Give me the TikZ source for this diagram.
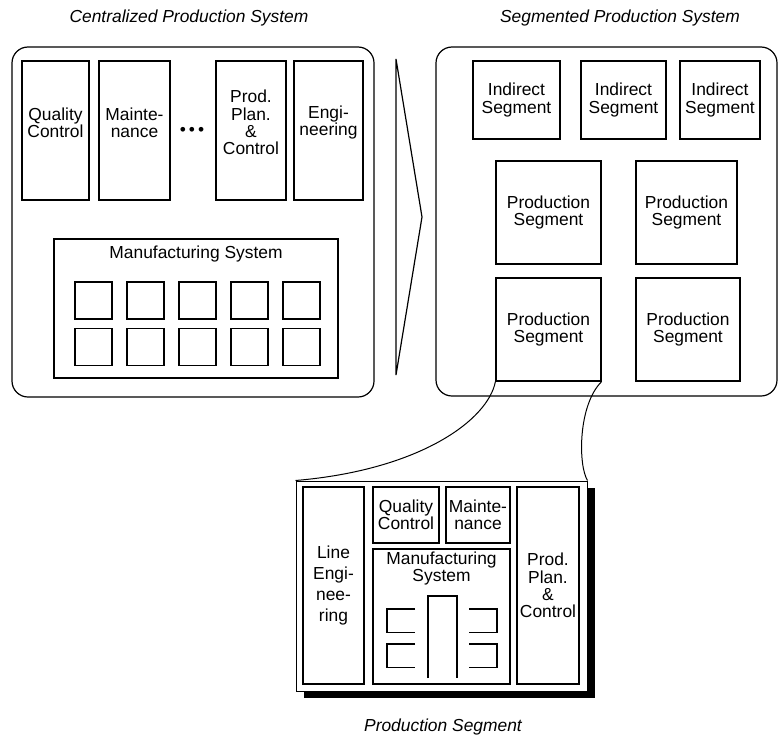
\documentclass[tikz,border=0pt]{standalone}
\usepackage{fontspec}
\setmainfont{Liberation Sans}
\usetikzlibrary{shadows}

\begin{document}
\begin{tikzpicture}[x=1pt,y=-1pt,
    every node/.style={font=\fontsize{17.4pt}{17.2pt}\selectfont},
    caption/.style={font=\fontsize{17.4pt}{17.2pt}\selectfont\itshape},
    plant/.style={draw,line width=1.2pt,rounded corners=16pt,inner sep=0pt},
    dept/.style={draw,line width=1.2pt,inner sep=0pt,align=center},
    lbl/.style={align=center,yshift=8pt},
    cell/.style={draw,line width=1.2pt,minimum size=37pt,inner sep=0pt},
    frame/.style={draw,fill=white,line width=1pt,inner sep=0pt,
        drop shadow={shadow xshift=8pt,shadow yshift=-7pt,fill=black,opacity=1}}]
    \useasboundingbox (0,0) rectangle (779,736);

    \path
    (189,18) node[caption] (cps) {Centralized Production System}
    (620,18) node[caption] (sps) {Segmented Production System}
    (443,727) node[caption] (psl) {Production Segment};

    % centralized
    \path
    (193,222) node[plant,minimum width=362pt,minimum height=350pt] (central) {}
    (55.5,130.5) node[dept,minimum width=67pt,minimum height=139pt,label={[lbl]center:Quality\\Control}] (qc) {}
    (134.5,130.5) node[dept,minimum width=71pt,minimum height=139pt,label={[lbl]center:Mainte-\\nance}] (maint) {}
    (192,131) node (dots) {\textbullet\hspace{3pt}\textbullet\hspace{3pt}\textbullet}
    (251,130.5) node[dept,minimum width=70pt,minimum height=139pt,label={[lbl]center:Prod.\\Plan.\\\&\\Control}] (ppc) {}
    (328.5,130.5) node[dept,minimum width=69pt,minimum height=139pt,label={[lbl]center:Engi-\\neering}] (eng) {}
    (196,308.5) node[dept,minimum width=284pt,minimum height=139pt,label={[anchor=north,yshift=-4pt]north:Manufacturing System}] (mfg) {};

    \foreach \row/\y in {1/300.5,2/347}
        \foreach \col in {1,...,5}
            \path (41.5+52*\col,\y) node[cell] (cell-\row-\col) {};

    \draw[line width=1.2pt] (396,59) -- (422,217) -- (396,375) -- cycle;

    % segmented
    \path
    (606.5,221.5) node[plant,minimum width=341pt,minimum height=349pt] (segmented) {}
    (516.5,100) node[dept,minimum width=87pt,minimum height=78pt] (ind1) {Indirect\\Segment}
    (623.5,100) node[dept,minimum width=85pt,minimum height=78pt] (ind2) {Indirect\\Segment}
    (720,100) node[dept,minimum width=80pt,minimum height=78pt] (ind3) {Indirect\\Segment}
    (548.5,212.5) node[dept,minimum width=105pt,minimum height=103pt] (prod1) {Production\\Segment}
    (686.5,212.5) node[dept,minimum width=101pt,minimum height=103pt] (prod2) {Production\\Segment}
    (548.5,329.5) node[dept,minimum width=105pt,minimum height=103pt] (prod3) {Production\\Segment}
    (688,329.5) node[dept,minimum width=104pt,minimum height=103pt] (prod4) {Production\\Segment};

    % production segment
    \path
    (441.5,586) node[frame,minimum width=291pt,minimum height=210pt] (zoom) {}
    (333.5,585.5) node[dept,minimum width=61pt,minimum height=197pt] (leng) {Line\\[3.5pt]Engi-\\[3.5pt]nee-\\[3.5pt]ring}
    (406,515) node[dept,minimum width=66pt,minimum height=56pt] (zqc) {Quality\\Control}
    (478,515) node[dept,minimum width=64pt,minimum height=56pt] (zmaint) {Mainte-\\nance}
    (441.5,616.5) node[dept,minimum width=137pt,minimum height=135pt,label={[anchor=north,align=center]north:Manufacturing\\System}] (zmfg) {}
    (548,585.5) node[dept,minimum width=62pt,minimum height=197pt] (zppc) {Prod.\\Plan.\\\&\\Control};

    \draw[line width=1.2pt] (428,678) -- (428,596) -- (457,596) -- (457,678);
    \foreach \y in {609,644} {
        \draw[line width=1.2pt] (415,\y) -- ++(-28,0) -- ++(0,23.5) -- ++(28,0);
        \draw[line width=1.2pt] (469,\y) -- ++(28,0) -- ++(0,23.5) -- ++(-28,0);
    }

    \draw[line width=1pt] (prod3.south west) .. controls (488,420) and (420,470) .. (zoom.north west);
    \draw[line width=1pt] (prod3.south east) .. controls (578,405) and (578,465) .. (zoom.north east);
\end{tikzpicture}
\end{document}
